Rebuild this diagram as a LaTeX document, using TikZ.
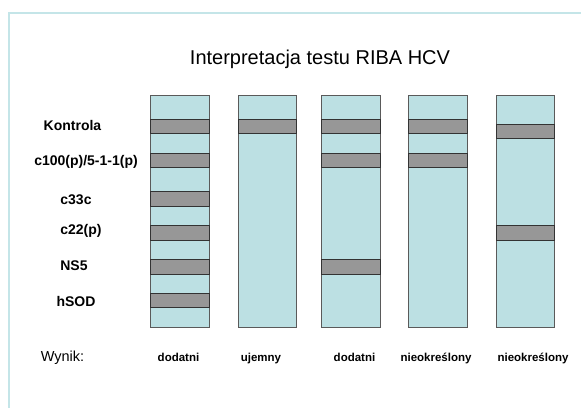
\documentclass[tikz,border=0pt]{standalone}
\usepackage{fontspec}
\setmainfont{Liberation Sans}
\definecolor{stripfill}{HTML}{BCE0E3}
\definecolor{bandfill}{HTML}{979797}
\definecolor{framecol}{HTML}{C4E5E8}
\definecolor{stripline}{HTML}{5A5A5A}
\begin{document}
\begin{tikzpicture}[x=1pt,y=-1pt,
  strip/.style={fill=stripfill,draw=stripline,line width=0.9pt},
  band/.style={fill=bandfill,draw=black!80,line width=0.9pt},
  rowlabel/.style={font=\fontsize{14}{16}\selectfont\bfseries,inner sep=0pt},
  reslabel/.style={font=\fontsize{11.5}{13}\selectfont\bfseries,inner sep=0pt,anchor=base},
  titlelabel/.style={font=\fontsize{20}{24}\selectfont,inner sep=0pt}]
\useasboundingbox (0,0) rectangle (581,407);
\fill[white] (0,0) rectangle (581,407);
% frame
\draw[framecol,line width=2pt] (9,420) -- (9,13) -- (590,13);
% title
\node[titlelabel] (title) at (320,59) {Interpretacja testu RIBA HCV};
% row labels
\node[rowlabel] (kontrola) at (72.5,125) {Kontrola};
\node[rowlabel] (c100) at (86,162) {c100(p)/5-1-1(p)};
\node[rowlabel] (c33c) at (76,199.5) {c33c};
\node[rowlabel] (c22) at (81,231) {c22(p)};
\node[rowlabel] (ns5) at (74,266) {NS5};
\node[rowlabel] (hsod) at (76,301) {hSOD};
\node[font=\fontsize{14.5}{16}\selectfont,inner sep=0pt,anchor=base] (wynik) at (62.5,361.5) {Wynik:};
% strips
\foreach \xa/\xb in {150.7/209.3,238.3/296.5,321.7/380,408.7/467.3,496.3/554.7}
  \draw[strip] (\xa,95) rectangle (\xb,327.3);
% strip 1 bands
\foreach \ya/\yb in {119/133.3,153.3/167.7,191.5/206,225.7/240,259.5/274.3,293.3/307.7}
  \draw[band] (150.7,\ya) rectangle (209.3,\yb);
% strip 2
\draw[band] (238.3,119) rectangle (296.5,133.3);
% strip 3
\foreach \ya/\yb in {119/133.3,153.3/167.7,259.5/274.3}
  \draw[band] (321.7,\ya) rectangle (380,\yb);
% strip 4
\foreach \ya/\yb in {119/133.3,153.3/167.7}
  \draw[band] (408.7,\ya) rectangle (467.3,\yb);
% strip 5
\foreach \ya/\yb in {124.3/138.7,225.7/240}
  \draw[band] (496.3,\ya) rectangle (554.7,\yb);
% results
\node[reslabel] (r1) at (178.5,361) {dodatni};
\node[reslabel] (r2) at (261,361) {ujemny};
\node[reslabel] (r3) at (354.5,361) {dodatni};
\node[reslabel] (r4) at (436,361) {nieokreślony};
\node[reslabel] (r5) at (533,361) {nieokreślony};
\end{tikzpicture}
\end{document}
